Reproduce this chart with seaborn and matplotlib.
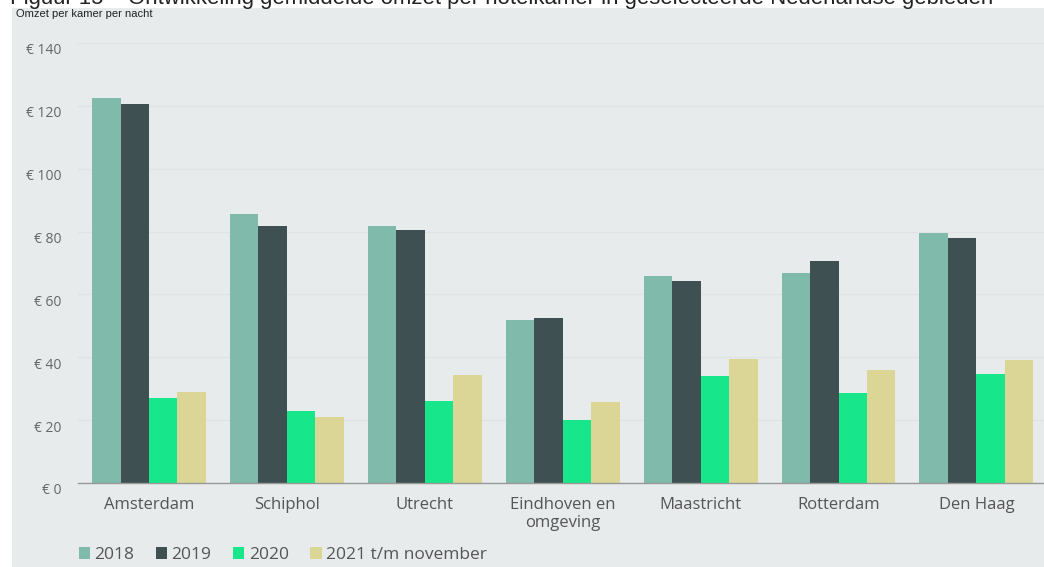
import matplotlib
matplotlib.use("Agg")
import matplotlib.pyplot as plt
import matplotlib.transforms as mtransforms
from matplotlib.patches import Rectangle
import seaborn as sns
import pandas as pd

categories = ["Amsterdam", "Schiphol", "Utrecht", "Eindhoven en\nomgeving",
              "Maastricht", "Rotterdam", "Den Haag"]
series = ["2018", "2019", "2020", "2021 t/m november"]
v2018 = [122.5, 85.6, 81.9, 52.0, 65.9, 66.8, 79.4]
v2019 = [120.7, 81.8, 80.6, 52.6, 64.2, 70.5, 78.1]
v2020 = [27.2, 22.9, 26.1, 20.0, 34.0, 28.7, 34.8]
v2021 = [29.0, 21.1, 34.3, 25.8, 39.4, 36.1, 39.1]
yticks = [0, 20, 40, 60, 80, 100, 120, 140]
ytick_labels = ["€ 0", "€ 20", "€ 40", "€ 60", "€ 80", "€ 100", "€ 120", "€ 140"]
colors = ["#7fbaaa", "#3f5052", "#17e68a", "#dcd696"]

rows = []
for s, vals in zip(series, [v2018, v2019, v2020, v2021]):
    for c, v in zip(categories, vals):
        rows.append({"gebied": c, "jaar": s, "omzet": v})
df = pd.DataFrame(rows)

sns.set_theme(style="white")
plt.rcParams["font.family"] = ["Open Sans", "DejaVu Sans"]

bg = "#e8ebeb"
fig = plt.figure(figsize=(10.44, 5.67), dpi=100, facecolor="white")
panel = Rectangle((12 / 1044, 0), 1 - 12 / 1044, 1 - 8 / 567,
                  transform=fig.transFigure, facecolor=bg,
                  edgecolor="none", zorder=-10)
fig.add_artist(panel)

ax = fig.add_axes([78 / 1044, 1 - 483 / 567, 1 - 78 / 1044, (483 - 43) / 567])
ax.set_facecolor("none")
ax.set_zorder(5)

sns.barplot(data=df, x="gebied", y="omzet", hue="jaar", order=categories,
            hue_order=series, palette=colors, width=0.826, gap=0,
            saturation=1, linewidth=0, edgecolor="none", ax=ax, legend=True)

ax.set_xlim(-0.515, 6.49)
ax.set_ylim(0, 140)
ax.set_yticks(yticks)
ax.set_yticklabels(ytick_labels)
ax.yaxis.grid(True, color="#dfe3e3", linewidth=1.0)
ax.set_axisbelow(True)
for sp in ["top", "right", "left"]:
    ax.spines[sp].set_visible(False)
ax.spines["bottom"].set_color("#999999")
ax.spines["bottom"].set_linewidth(1.0)
ax.set_xlabel("")
ax.set_ylabel("")
ax.tick_params(axis="y", length=0, labelsize=10, labelcolor="#666666", pad=17)
ax.tick_params(axis="x", length=0, labelsize=12, labelcolor="#555555", pad=10)
off = mtransforms.ScaledTranslation(7 / 100, -6 / 100, fig.dpi_scale_trans)
for lbl in ax.get_yticklabels():
    lbl.set_transform(lbl.get_transform() + off)
for lbl in ax.get_xticklabels():
    lbl.set_linespacing(1.2)

handles, labels = ax.get_legend_handles_labels()
ax.legend_.remove()
leg = fig.legend(handles, labels, loc="center left", bbox_to_anchor=(63 / 1044, 1 - 555 / 567),
                 ncol=4, frameon=False, fontsize=12.5, handlelength=0.65, handleheight=0.65,
                 handletextpad=0.25, columnspacing=1.25, labelcolor="#555555")

fig.text(16 / 1044, 1 - 14 / 567, "Omzet per kamer per nacht", fontsize=8,
         color="#222222", va="center", ha="left",
         family=["Liberation Sans Narrow", "Liberation Sans", "DejaVu Sans"])
fig.text(10 / 1044, 1 + 2 / 567,
         "Figuur 15 \u2013 Ontwikkeling gemiddelde omzet per hotelkamer in geselecteerde Nederlandse gebieden",
         fontsize=15.9, color="#222222", va="center", ha="left",
         family=["Liberation Sans Narrow", "Liberation Sans", "DejaVu Sans"])

fig.savefig("out.png", dpi=100, facecolor="white")
